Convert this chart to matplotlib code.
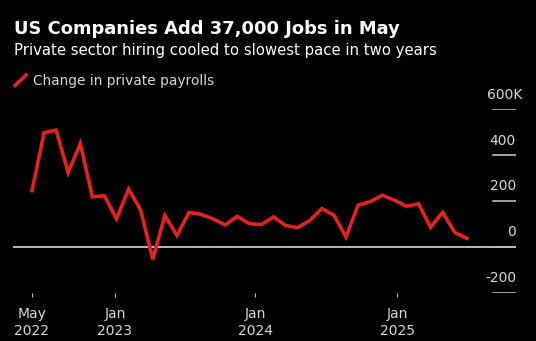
import matplotlib.pyplot as plt

# ADP change in private payrolls, thousands (May 2022 - May 2025)
months = ['2022-05', '2022-06', '2022-07', '2022-08', '2022-09', '2022-10', '2022-11', '2022-12',
          '2023-01', '2023-02', '2023-03', '2023-04', '2023-05', '2023-06', '2023-07', '2023-08',
          '2023-09', '2023-10', '2023-11', '2023-12', '2024-01', '2024-02', '2024-03', '2024-04',
          '2024-05', '2024-06', '2024-07', '2024-08', '2024-09', '2024-10', '2024-11', '2024-12',
          '2025-01', '2025-02', '2025-03', '2025-04', '2025-05']
payrolls = [245, 498, 509, 324, 450, 218, 223, 122, 252, 161, -55, 137, 50, 150, 142, 122,
            96, 133, 101, 97, 131, 93, 84, 115, 167, 138, 43, 182, 197, 225, 204, 177,
            188, 85, 151, 63, 37]

y_ticks = [-200, 0, 200, 400, 600]
y_labels = ['-200', '0', '200', '400', '600K']
x_tick_pos = [0, 6.87, 18.5, 30.25]
x_tick_labels = ['May\n2022', 'Jan\n2023', 'Jan\n2024', 'Jan\n2025']

red = '#e2231e'
grey = '#d8d8d8'

fig = plt.figure(figsize=(5.36, 3.41), dpi=100, facecolor='black')
ax = fig.add_axes([13 / 536, 1 - 292.7 / 341, 503 / 536, 183.4 / 341])
ax.set_facecolor('black')

x = list(range(len(payrolls)))
ax.plot(x, payrolls, color=red, lw=2.6, solid_joinstyle='miter', zorder=3)

ax.set_xlim(-1.57, 40.07)
ax.set_ylim(-200, 600)

# zero line and short gridline stubs on the right
ax.axhline(0, color=grey, lw=1.2, zorder=2)
for v, lab in zip(y_ticks, y_labels):
    ax.axhline(v, xmin=(493 - 13) / 503, xmax=1, color='#bbbbbb', lw=1.2)
    dx = 4.5 if lab.endswith('K') else 0
    ax.annotate(lab, xy=(1, v), xycoords=('axes fraction', 'data'),
                xytext=(dx, 5.5), textcoords='offset points',
                ha='right', va='bottom', color=grey, fontsize=10)

for s in ax.spines.values():
    s.set_visible(False)
ax.set_yticks([])
ax.set_xticks(x_tick_pos)
ax.set_xticklabels(x_tick_labels, color=grey, fontsize=10, linespacing=1.35)
ax.tick_params(axis='x', length=3, width=0.8, color='#bbbbbb', pad=7)

fig.text(14 / 536, 1 - 20 / 341, 'US Companies Add 37,000 Jobs in May', color='white',
         fontsize=12.9, fontweight='bold', va='top', ha='left')
fig.text(14 / 536, 1 - 42.5 / 341, 'Private sector hiring cooled to slowest pace in two years',
         color='white', fontsize=10.75, va='top', ha='left')

# legend
fig.add_artist(plt.Line2D([15 / 536, 26 / 536], [1 - 85.5 / 341, 1 - 75 / 341],
                          color=red, lw=2.6, transform=fig.transFigure))
fig.text(33 / 536, 1 - 80.5 / 341, 'Change in private payrolls', color=grey,
         fontsize=9.9, va='center', ha='left')

fig.savefig('out.png', dpi=100, facecolor='black')
